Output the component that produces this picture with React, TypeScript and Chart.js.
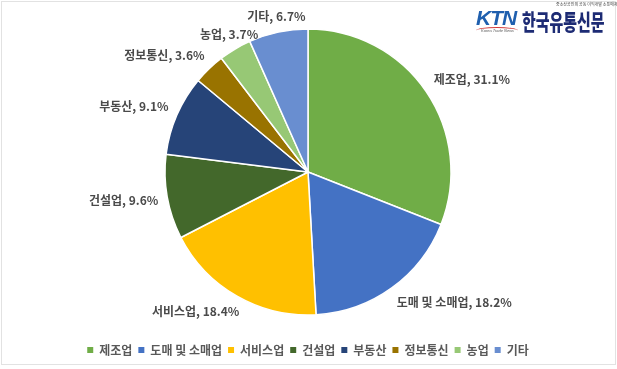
import React, { useEffect, useRef } from "react";
import { Chart, registerables } from "chart.js";

Chart.register(...registerables);

const categories = ["제조업", "도매 및 소매업", "서비스업", "건설업", "부동산", "정보통신", "농업", "기타"];
const shares = [31.1, 18.2, 18.4, 9.6, 9.1, 3.6, 3.7, 6.7];
const sliceColors = ["#70AD47", "#4472C4", "#FFC000", "#43682B", "#264478", "#997300", "#97C875", "#698ED0"];

const FONT = "'Noto Sans CJK KR', 'Noto Sans', sans-serif";

const clamp = (v: number) => Math.max(-1, Math.min(1, v));

const outsideLabels = {
  id: "outsideLabels",
  afterDatasetsDraw(chart: any) {
    const ctx = chart.ctx;
    const meta = chart.getDatasetMeta(0);
    const data = chart.data.datasets[0].data as number[];
    ctx.save();
    ctx.font = `bold 12px ${FONT}`;
    ctx.fillStyle = "#4a4a4a";
    ctx.textAlign = "center";
    ctx.textBaseline = "middle";
    meta.data.forEach((arc: any, i: number) => {
      const p = arc.getProps(["x", "y", "startAngle", "endAngle", "outerRadius"], true);
      const mid = (p.startAngle + p.endAngle) / 2;
      const dx = Math.cos(mid);
      const dy = Math.sin(mid);
      const text = `${chart.data.labels[i]}, ${data[i].toFixed(1)}%`;
      const w = ctx.measureText(text).width;
      const h = 14;
      const t = p.outerRadius + 9;
      // upper half: labels stay centred until the ray leans well to a side
      const fx =
        dy < 0
          ? Math.sign(dx) * Math.max(0, Math.min(1, (Math.abs(dx) - 0.5) / 0.2))
          : clamp(dx * 1.7);
      const fy = clamp(dy * 1.7);
      const cx = p.x + t * dx + (w / 2) * fx;
      const cy = p.y + t * dy + (h / 2) * fy;
      ctx.fillText(text, cx, cy);
    });
    ctx.restore();
  },
};

export default function App() {
  const ref = useRef<HTMLCanvasElement | null>(null);
  useEffect(() => {
    document.body.style.margin = "0";
    const chart = new Chart(ref.current as HTMLCanvasElement, {
      type: "pie",
      data: {
        labels: categories,
        datasets: [
          {
            data: shares,
            backgroundColor: sliceColors,
            borderColor: "#ffffff",
            borderWidth: 1.5,
            radius: 143,
          },
        ],
      },
      options: {
        animation: false,
        responsive: false,
        layout: { padding: { top: 6, bottom: 3, left: 0, right: 1 } },
        plugins: {
          tooltip: { enabled: false },
          legend: {
            position: "bottom",
            labels: {
              boxWidth: 6,
              boxHeight: 6,
              padding: 6,
              color: "#595959",
              font: { family: FONT, size: 12, weight: "bold" },
              generateLabels: (c: any) =>
                (Chart as any).overrides.pie.plugins.legend.labels
                  .generateLabels(c)
                  .map((l: any) => ({ ...l, lineWidth: 0, strokeStyle: l.fillStyle })),
            },
          },
        },
      },
      plugins: [outsideLabels],
    });
    return () => chart.destroy();
  }, []);

  return (
    <div style={{ position: "relative", width: 617, height: 369, background: "#fff", overflow: "hidden" }}>
      <canvas ref={ref} width={617} height={369} style={{ position: "absolute", left: 0, top: 0 }} />
      <div
        style={{
          position: "absolute",
          left: 1,
          top: 1,
          width: 613,
          height: 362,
          border: "1px solid #e2e2e2",
          pointerEvents: "none",
        }}
      />
      <div
        style={{
          position: "absolute",
          left: 476,
          top: 6,
          fontFamily: "'Liberation Sans', Arial, sans-serif",
          fontWeight: 900,
          fontStyle: "italic",
          fontSize: 21,
          color: "#1f5fae",
          letterSpacing: -1,
          lineHeight: "24px",
        }}
      >
        KTN
      </div>
      <div
        style={{
          position: "absolute",
          left: 476,
          top: 27,
          width: 42,
          height: 6,
          borderTop: "1px solid #d23a3a",
          borderRadius: "50% 50% 0 0",
        }}
      />
      <div
        style={{
          position: "absolute",
          left: 481,
          top: 28,
          fontFamily: "'Liberation Sans', Arial, sans-serif",
          fontSize: 4,
          fontStyle: "italic",
          color: "#555",
          lineHeight: "5px",
        }}
      >
        Korea Trade News
      </div>
      <div
        style={{
          position: "absolute",
          left: 556,
          top: 2,
          fontFamily: FONT,
          fontSize: 4,
          color: "#444",
          lineHeight: "5px",
          whiteSpace: "nowrap",
        }}
      >
        중소상공인의 공동 이익개발 소통매체
      </div>
      <div
        style={{
          position: "absolute",
          left: 522,
          top: 6,
          fontFamily: FONT,
          fontWeight: 900,
          fontSize: 22,
          color: "#1d2b74",
          lineHeight: "28px",
          whiteSpace: "nowrap",
          transform: "scaleX(0.68)",
          transformOrigin: "left top",
        }}
      >
        한국유통신문
      </div>
    </div>
  );
}
